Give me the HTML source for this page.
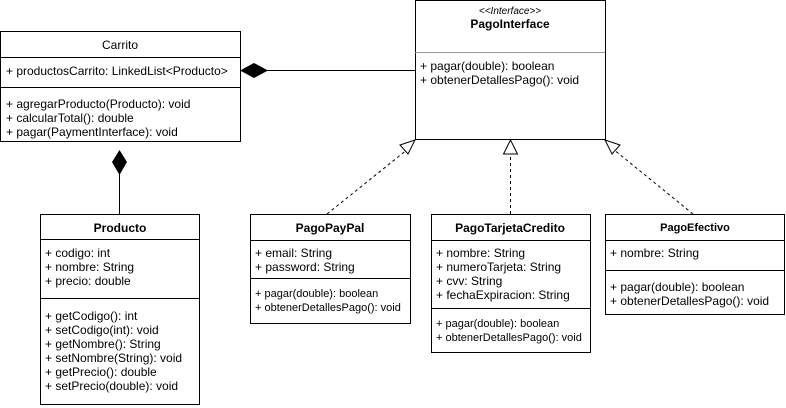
<!DOCTYPE html>
<html><head><style>body{margin:0;background:#fff}svg{display:block}text{font-family:"Liberation Sans",Arial,sans-serif;font-size:12px;fill:#000}.t{font-weight:bold;font-size:12px;text-anchor:middle}.s{font-size:11px}</style></head><body>
<svg width="786" height="408" viewBox="0 0 786 408" xmlns="http://www.w3.org/2000/svg">
<g fill="#fff" stroke="#000" stroke-width="1">
<rect x="0.5" y="31.5" width="240" height="110"/>
<line x1="0" y1="57.5" x2="240" y2="57.5"/><line x1="0" y1="87.5" x2="240" y2="87.5"/>
<rect x="415.5" y="0.5" width="190" height="139"/>
<line x1="415" y1="52.5" x2="605" y2="52.5" stroke="#999"/>
<rect x="40.5" y="214.5" width="159" height="190"/>
<line x1="40" y1="239.5" x2="199" y2="239.5"/><line x1="40" y1="298.5" x2="199" y2="298.5"/>
<rect x="250.5" y="214.5" width="160" height="109"/>
<line x1="250" y1="240.5" x2="410" y2="240.5"/><line x1="250" y1="278.5" x2="410" y2="278.5"/>
<rect x="431.5" y="214.5" width="159" height="138"/>
<line x1="431" y1="240.5" x2="590" y2="240.5"/><line x1="431" y1="308.5" x2="590" y2="308.5"/>
<rect x="605.5" y="214.5" width="179" height="100"/>
<line x1="605" y1="240.5" x2="784" y2="240.5"/><line x1="605" y1="270.5" x2="784" y2="270.5"/>
</g>
<g stroke="#000" fill="none">
<line x1="267" y1="70.5" x2="415" y2="70.5"/>
<line x1="119.5" y1="174" x2="119.5" y2="214"/>
<g stroke-dasharray="3,3">
<line x1="327" y1="214" x2="408" y2="149"/>
<line x1="510.5" y1="214" x2="510.5" y2="154"/>
<line x1="693" y1="214" x2="613" y2="149"/>
</g>
<polygon points="415,140 408,154 400,145" fill="#fff"/>
<polygon points="510.5,140 503.5,154 517.5,154" fill="#fff"/>
<polygon points="605,140 620,145 612,154" fill="#fff"/>
</g>
<polygon points="240,70.5 254,63 268,70.5 254,78" fill="#000"/>
<polygon points="119.5,150 127,162 119.5,175 112,162" fill="#000"/>
<text class="t" x="120" y="49" style="font-weight:normal">Carrito</text>
<text x="6" y="75">+ productosCarrito: LinkedList&lt;Producto&gt;</text>
<text x="6" y="108">+ agregarProducto(Producto): void</text>
<text x="6" y="122">+ calcularTotal(): double</text>
<text x="6" y="136">+ pagar(PaymentInterface): void</text>
<text x="510" y="14" class="s" text-anchor="middle" font-style="italic" style="font-size:10px">&lt;&lt;Interface&gt;&gt;</text>
<text class="t" x="510" y="28">PagoInterface</text>
<text x="420" y="70">+ pagar(double): boolean</text>
<text x="420" y="84">+ obtenerDetallesPago(): void</text>
<text class="t" x="120" y="232">Producto</text>
<text x="45" y="257">+ codigo: int</text><text x="45" y="271">+ nombre: String</text><text x="45" y="285">+ precio: double</text>
<text x="45" y="320">+ getCodigo(): int</text><text x="45" y="334">+ setCodigo(int): void</text><text x="45" y="348">+ getNombre(): String</text><text x="45" y="362">+ setNombre(String): void</text><text x="45" y="376">+ getPrecio(): double</text><text x="45" y="390">+ setPrecio(double): void</text>
<text class="t" x="330" y="232">PagoPayPal</text>
<text x="255" y="257">+ email: String</text><text x="255" y="271">+ password: String</text>
<text class="s" x="255" y="297">+ pagar(double): boolean</text><text class="s" x="255" y="311">+ obtenerDetallesPago(): void</text>
<text class="t" x="510" y="232">PagoTarjetaCredito</text>
<text x="436" y="257">+ nombre: String</text><text x="436" y="271">+ numeroTarjeta: String</text><text x="436" y="285">+ cvv: String</text><text x="436" y="299">+ fechaExpiracion: String</text>
<text class="s" x="436" y="327">+ pagar(double): boolean</text><text class="s" x="436" y="341">+ obtenerDetallesPago(): void</text>
<text class="t" x="695" y="231" style="font-size:11px">PagoEfectivo</text>
<text x="610" y="257">+ nombre: String</text>
<text x="610" y="291">+ pagar(double): boolean</text><text x="610" y="305">+ obtenerDetallesPago(): void</text>
</svg>
</body></html>
